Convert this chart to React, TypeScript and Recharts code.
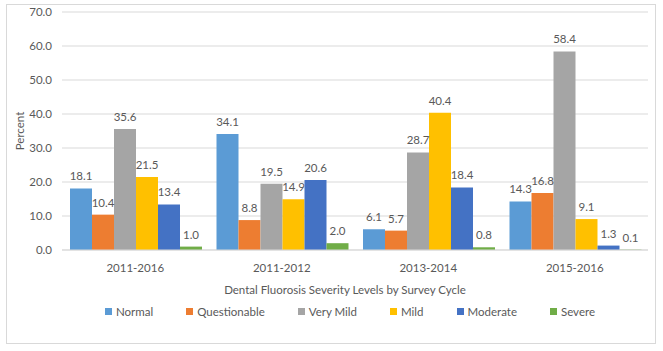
import React from "react";
import { BarChart, Bar, XAxis, YAxis, CartesianGrid, LabelList } from "recharts";

const cycles = ["2011-2016", "2011-2012", "2013-2014", "2015-2016"];
const normal = [18.1, 34.1, 6.1, 14.3];
const questionable = [10.4, 8.8, 5.7, 16.8];
const veryMild = [35.6, 19.5, 28.7, 58.4];
const mild = [21.5, 14.9, 40.4, 9.1];
const moderate = [13.4, 20.6, 18.4, 1.3];
const severe = [1.0, 2.0, 0.8, 0.1];
const yTicks = [0, 10, 20, 30, 40, 50, 60, 70];

const seriesInfo = [
  { key: "normal", name: "Normal", color: "#5B9BD5" },
  { key: "questionable", name: "Questionable", color: "#ED7D31" },
  { key: "veryMild", name: "Very Mild", color: "#A5A5A5" },
  { key: "mild", name: "Mild", color: "#FFC000" },
  { key: "moderate", name: "Moderate", color: "#4472C4" },
  { key: "severe", name: "Severe", color: "#70AD47" },
];

const data = cycles.map((c, i) => ({
  cycle: c,
  normal: normal[i],
  questionable: questionable[i],
  veryMild: veryMild[i],
  mild: mild[i],
  moderate: moderate[i],
  severe: severe[i],
}));

const FONT = "Lato, 'Liberation Sans', sans-serif";
const TXT = "#595959";
const FS = 11.5;

export default function App() {
  return (
    <div style={{ position: "absolute", left: 0, top: 0, width: 663, height: 351, background: "#fff" }}>
      <div
        style={{
          position: "absolute",
          left: 6,
          top: 4,
          width: 648,
          height: 338,
          border: "1px solid #d9d9d9",
        }}
      />
      <div style={{ position: "absolute", left: 0, top: 0 }}>
        <BarChart
          width={663}
          height={351}
          data={data}
          margin={{ top: 12, right: 15, left: 0, bottom: 71 }}
          barCategoryGap={8}
          barGap={0}
        >
          <CartesianGrid vertical={false} stroke="#d9d9d9" />
          <XAxis
            dataKey="cycle"
            height={30}
            tickLine={false}
            axisLine={{ stroke: "#d9d9d9" }}
            tick={{ fill: TXT, fontSize: FS, fontFamily: FONT }}
            tickMargin={8}
          />
          <YAxis
            width={62}
            domain={[0, 70]}
            ticks={yTicks}
            interval={0}
            tickFormatter={(v: number) => v.toFixed(1)}
            axisLine={false}
            tickLine={false}
            tickMargin={4}
            tick={{ fill: TXT, fontSize: FS, fontFamily: FONT }}
            label={{
              value: "Percent",
              angle: -90,
              position: "insideLeft",
              offset: 20,
              fill: TXT,
              fontSize: FS,
              fontFamily: FONT,
              style: { textAnchor: "middle" },
            }}
          />
          {seriesInfo.map((s) => (
            <Bar key={s.key} dataKey={s.key} name={s.name} fill={s.color} isAnimationActive={false}>
              <LabelList
                dataKey={s.key}
                position="top"
                offset={8}
                formatter={(v: number) => v.toFixed(1)}
                style={{ fill: TXT, fontSize: FS, fontFamily: FONT }}
              />
            </Bar>
          ))}
        </BarChart>
      </div>
      <div
        style={{
          position: "absolute",
          left: 0,
          width: 690,
          top: 283,
          textAlign: "center",
          fontFamily: FONT,
          fontSize: FS,
          color: TXT,
        }}
      >
        Dental Fluorosis Severity Levels by Survey Cycle
      </div>
      <div
        style={{
          position: "absolute",
          left: 0,
          width: 700,
          top: 305,
          display: "flex",
          justifyContent: "center",
          gap: "33px",
          fontFamily: FONT,
          fontSize: FS,
          color: TXT,
        }}
      >
        {seriesInfo.map((s) => (
          <div key={s.key} style={{ display: "flex", alignItems: "center" }}>
            <span style={{ width: 7, height: 7, background: s.color, display: "inline-block", marginRight: 4 }} />
            <span>{s.name}</span>
          </div>
        ))}
      </div>
    </div>
  );
}
